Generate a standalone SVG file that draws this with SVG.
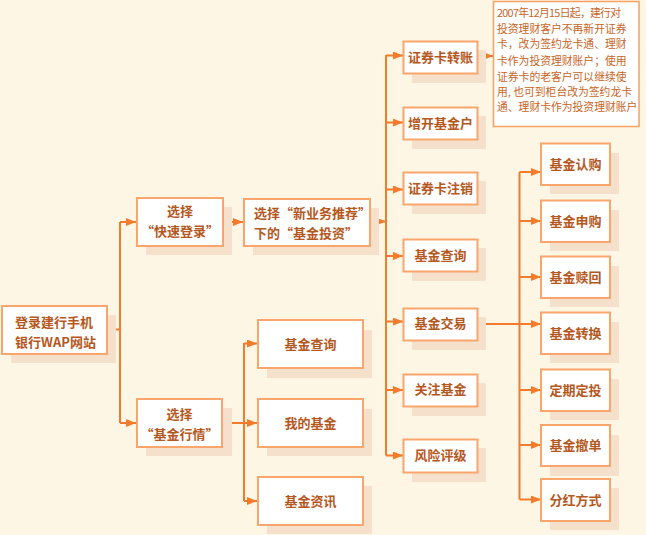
<svg xmlns="http://www.w3.org/2000/svg" width="646" height="535" viewBox="0 0 646 535">
<defs>
<style>
.bg{fill:#fef6e4}
.sh{fill:#f4e0cb}
.box{fill:#ffffff;stroke:#f9a56b;stroke-width:2}
.note{fill:#ffffff;stroke:#f6a064;stroke-width:1.5}
.t{font-family:"Noto Sans CJK SC","Noto Sans",sans-serif;font-weight:bold;font-size:13px;fill:#b5581e}
.c{text-anchor:middle}
.n{font-family:"Noto Sans CJK SC","Noto Sans",sans-serif;font-size:10.8px;fill:#c8651f}
.ln{fill:none;stroke:#f47b2c;stroke-width:2}
</style>
<marker id="ah" viewBox="0 0 10 8" refX="10" refY="4" markerWidth="10" markerHeight="8" markerUnits="userSpaceOnUse" orient="auto">
<path d="M0,0 L10,4 L0,8 z" fill="#f47b2c"/>
</marker>
</defs>
<rect class="bg" x="0" y="0" width="646" height="535"/>

<g id="connectors">
<path class="ln" d="M107,329.5 H120 M120,222 V423"/>
<path class="ln" d="M120,222 H136" marker-end="url(#ah)"/>
<path class="ln" d="M120,423 H136" marker-end="url(#ah)"/>
<path class="ln" d="M223,222 H243" marker-end="url(#ah)"/>
<path class="ln" d="M370,221.5 H386" marker-end="url(#ah)"/>
<path class="ln" d="M386,55 V455.5"/>
<path class="ln" d="M386,55.5 H403" marker-end="url(#ah)"/>
<path class="ln" d="M386,122.5 H403" marker-end="url(#ah)"/>
<path class="ln" d="M386,189.5 H403" marker-end="url(#ah)"/>
<path class="ln" d="M386,256 H403" marker-end="url(#ah)"/>
<path class="ln" d="M386,321.5 H403" marker-end="url(#ah)"/>
<path class="ln" d="M386,390 H403" marker-end="url(#ah)"/>
<path class="ln" d="M386,455.5 H403" marker-end="url(#ah)"/>
<path class="ln" d="M222,423 H244 M244,343 V501"/>
<path class="ln" d="M244,343.5 H257" marker-end="url(#ah)"/>
<path class="ln" d="M244,423 H257" marker-end="url(#ah)"/>
<path class="ln" d="M244,501 H257" marker-end="url(#ah)"/>
<path class="ln" d="M478,56 H493" marker-end="url(#ah)"/>
<path class="ln" d="M478,324 H519.5 M519.5,172 V499.5"/>
<path class="ln" d="M519.5,172 H541" marker-end="url(#ah)"/>
<path class="ln" d="M519.5,221 H541" marker-end="url(#ah)"/>
<path class="ln" d="M519.5,277 H541" marker-end="url(#ah)"/>
<path class="ln" d="M519.5,324 H541" marker-end="url(#ah)"/>
<path class="ln" d="M519.5,390 H541" marker-end="url(#ah)"/>
<path class="ln" d="M519.5,445 H541" marker-end="url(#ah)"/>
<path class="ln" d="M519.5,499.5 H541" marker-end="url(#ah)"/>
</g>

<g id="n-login">
<rect class="sh" x="11" y="315" width="105" height="48"/>
<rect class="box" x="2" y="306" width="105" height="48"/>
<text class="t" x="15" y="327">登录建行手机</text>
<text class="t" x="15" y="347">银行WAP网站</text>
</g>
<g id="n-quick">
<rect class="sh" x="146" y="207" width="86" height="48"/>
<rect class="box" x="137" y="198" width="86" height="48"/>
<text class="t c" x="180" y="215.5">选择</text>
<text class="t c" x="180" y="235.5">“快速登录”</text>
</g>
<g id="n-market">
<rect class="sh" x="146" y="408" width="86" height="48"/>
<rect class="box" x="137" y="399" width="85" height="48"/>
<text class="t c" x="179.5" y="418.5">选择</text>
<text class="t c" x="179.5" y="438.5">“基金行情”</text>
</g>
<g id="n-invest">
<rect class="sh" x="253" y="208" width="126" height="47"/>
<rect class="box" x="244" y="199" width="126" height="47"/>
<text class="t" x="254" y="217.5">选择“新业务推荐”</text>
<text class="t" x="254" y="237.5">下的“基金投资”</text>
</g>

<g id="n-m-query">
<rect class="sh" x="267" y="330" width="105" height="48"/>
<rect class="box" x="258" y="320" width="105" height="48"/>
<text class="t c" x="310.5" y="348.5">基金查询</text>
</g>
<g id="n-m-mine">
<rect class="sh" x="267" y="409" width="105" height="47"/>
<rect class="box" x="258" y="399" width="105" height="48"/>
<text class="t c" x="310.5" y="427.5">我的基金</text>
</g>
<g id="n-m-news">
<rect class="sh" x="267" y="486" width="105" height="48"/>
<rect class="box" x="258" y="477" width="105" height="48"/>
<text class="t c" x="310.5" y="505.5">基金资讯</text>
</g>

<g id="n-transfer">
<rect class="sh" x="412" y="50" width="74" height="33"/>
<rect class="box" x="403.5" y="41.5" width="74" height="32"/>
<text class="t c" x="440.5" y="62">证券卡转账</text>
</g>
<g id="n-open">
<rect class="sh" x="412" y="116" width="74" height="33"/>
<rect class="box" x="403.5" y="107.5" width="74" height="32"/>
<text class="t c" x="440.5" y="128">增开基金户</text>
</g>
<g id="n-cancel">
<rect class="sh" x="412" y="181" width="74" height="33"/>
<rect class="box" x="403.5" y="172.5" width="74" height="32"/>
<text class="t c" x="440.5" y="193">证券卡注销</text>
</g>
<g id="n-query">
<rect class="sh" x="412" y="248" width="74" height="33"/>
<rect class="box" x="403.5" y="239.5" width="74" height="32"/>
<text class="t c" x="440.5" y="260">基金查询</text>
</g>
<g id="n-trade">
<rect class="sh" x="412" y="317" width="74" height="33"/>
<rect class="box" x="403.5" y="308.5" width="74" height="32"/>
<text class="t c" x="440.5" y="327.5">基金交易</text>
</g>
<g id="n-follow">
<rect class="sh" x="412" y="383" width="74" height="33"/>
<rect class="box" x="403.5" y="374.5" width="74" height="32"/>
<text class="t c" x="440.5" y="394">关注基金</text>
</g>
<g id="n-risk">
<rect class="sh" x="412" y="448" width="74" height="34"/>
<rect class="box" x="403.5" y="439.5" width="74" height="33"/>
<text class="t c" x="440.5" y="460">风险评级</text>
</g>

<g id="n-note">
<rect class="note" x="493.5" y="1.5" width="145.5" height="125"/>
<text class="n" x="497" y="17" textLength="124" lengthAdjust="spacing">2007年12月15日起，建行对</text>
<text class="n" x="497" y="33">投资理财客户不再新开证券</text>
<text class="n" x="497" y="48">卡，改为签约龙卡通、理财</text>
<text class="n" x="497" y="65">卡作为投资理财账户；使用</text>
<text class="n" x="497" y="80.5">证券卡的老客户可以继续使</text>
<text class="n" x="497" y="95.5">用, 也可到柜台改为签约龙卡</text>
<text class="n" x="497" y="111">通、理财卡作为投资理财账户</text>
</g>

<g id="n-subscribe">
<rect class="sh" x="550" y="153" width="69" height="41"/>
<rect class="box" x="541" y="143.5" width="69" height="41.5"/>
<text class="t c" x="575.5" y="169">基金认购</text>
</g>
<g id="n-purchase">
<rect class="sh" x="550" y="210" width="69" height="41"/>
<rect class="box" x="541" y="200.5" width="69" height="41.5"/>
<text class="t c" x="575.5" y="226">基金申购</text>
</g>
<g id="n-redeem">
<rect class="sh" x="550" y="266" width="69" height="41"/>
<rect class="box" x="541" y="256.5" width="69" height="41.5"/>
<text class="t c" x="575.5" y="282">基金赎回</text>
</g>
<g id="n-switch">
<rect class="sh" x="550" y="322" width="69" height="41"/>
<rect class="box" x="541" y="312.5" width="69" height="41.5"/>
<text class="t c" x="575.5" y="338">基金转换</text>
</g>
<g id="n-regular">
<rect class="sh" x="550" y="379" width="69" height="41"/>
<rect class="box" x="541" y="369.5" width="69" height="41.5"/>
<text class="t c" x="575.5" y="395">定期定投</text>
</g>
<g id="n-withdraw">
<rect class="sh" x="550" y="435" width="69" height="41"/>
<rect class="box" x="541" y="425" width="69" height="41"/>
<text class="t c" x="575.5" y="450">基金撤单</text>
</g>
<g id="n-dividend">
<rect class="sh" x="550" y="488" width="69" height="42"/>
<rect class="box" x="541" y="479" width="69" height="42"/>
<text class="t c" x="575.5" y="504.5">分红方式</text>
</g>
</svg>
